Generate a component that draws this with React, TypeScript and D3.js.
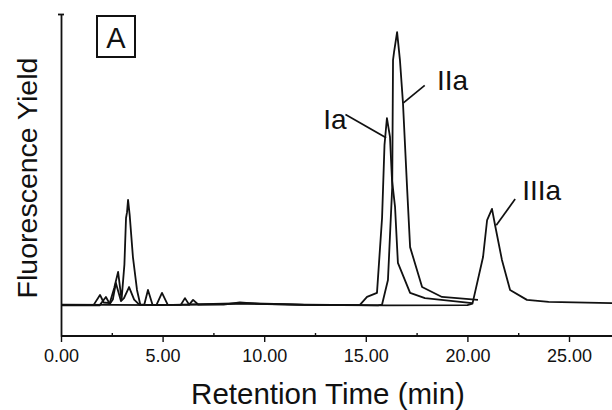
import React, { useEffect, useRef } from 'react';
import * as d3 from 'd3';

// retention time (min), fluorescence (arbitrary units, 0 = baseline)
const traceIa: [number, number][] = [
  [0, 0.2], [1.6, 0.1], [1.92, 3.6], [2.1, 1.0], [2.4, 0.8], [2.62, 6], [2.81, 11.5],
  [2.98, 2.0], [3.12, 14], [3.2, 30], [3.25, 32], [3.3, 36.2], [3.38, 31], [3.54, 16.6],
  [3.74, 5.3], [3.9, 0.3], [4.7, 0.2], [4.97, 4.3], [5.25, 0.3], [5.9, 0.2], [6.1, 2.5],
  [6.3, 0.3], [8.0, 0.3], [8.8, 1.0], [9.8, 0.5], [12, 0.2], [14.7, 0.1], [15.06, 2.9],
  [15.55, 4.3], [15.8, 30], [15.92, 55], [16.04, 64.3], [16.19, 57.8], [16.29, 43],
  [16.44, 33.7], [16.58, 14.6], [17.18, 4.3], [17.91, 2.5], [20.23, 0.8],
];

const traceIIa: [number, number][] = [
  [0, 0], [1.9, 0], [2.21, 2.9], [2.4, 0.5], [2.55, 2], [2.7, 7.7], [2.95, 1.5], [3.1, 2.5],
  [3.35, 6.3], [3.6, 2], [3.85, 0.3], [4.1, 0.3], [4.28, 5.3], [4.5, 0.3], [6.3, 0.2],
  [6.5, 1.9], [6.75, 0.3], [9, 0.6], [12, 0.2], [15.6, 0], [15.8, 0.3], [16.09, 8.7],
  [16.3, 40.6], [16.34, 84.2], [16.39, 86.9], [16.54, 93.8], [16.68, 84.2], [16.83, 69.4],
  [17.03, 40.6], [17.18, 20], [17.77, 6.3], [18.75, 2.9], [20.52, 1.9],
];

const traceIIIa: [number, number][] = [
  [0, 0.3], [5, 0.1], [9, 0.8], [12, 0.3], [16, 0], [20.0, 0.1], [20.25, 0.6],
  [20.77, 16.6], [20.97, 29.3], [21.21, 33.1], [21.36, 27.6], [21.7, 15.6], [22.1, 5.3],
  [22.93, 1.9], [24, 1.2], [27.12, 0.8],
];

const majorTicks = [0, 5, 10, 15, 20, 25];
const minorTicks = [2.5, 7.5, 12.5, 17.5, 22.5];

// peak labels: text, text position (time, value), leader end (time, value)
const peakLabels = [
  { name: 'Ia', at: [12.9, 60.5], from: [14.0, 65.5], to: [16.0, 57.5] },
  { name: 'IIa', at: [18.5, 74], from: [17.9, 75.5], to: [16.85, 69.5] },
  { name: 'IIIa', at: [22.7, 36], from: [22.35, 36.5], to: [21.42, 27.5] },
];

const FONT = '"Liberation Sans", Arial, Helvetica, sans-serif';
const INK = '#111';

const Chromatogram = () => {
  const ref = useRef<SVGSVGElement>(null);

  useEffect(() => {
    const width = 612;
    const height = 410;
    const svg = d3.select(ref.current);
    svg.selectAll('*').remove();
    svg.attr('width', width).attr('height', height);

    const x = d3.scaleLinear().domain([0, 25]).range([61, 569]);
    const y = d3.scaleLinear().domain([-10.5, 100]).range([336, 14]);

    const line = d3
      .line<[number, number]>()
      .x(d => x(d[0]))
      .y(d => y(d[1]));

    [traceIIIa, traceIIa, traceIa].forEach(t => {
      svg.append('path')
        .attr('d', line(t))
        .attr('fill', 'none')
        .attr('stroke', INK)
        .attr('stroke-width', 1.8)
        .attr('stroke-linejoin', 'round');
    });

    // bottom axis
    const xAxis = svg.append('g')
      .attr('transform', `translate(0,${y(-10.5)})`)
      .call(d3.axisBottom(x).tickValues(majorTicks).tickSize(6).tickSizeOuter(0).tickFormat(d3.format('.2f')));
    xAxis.select('.domain').attr('d', `M${x(0)},0H${width}`).attr('stroke', INK).attr('stroke-width', 1.8);
    xAxis.selectAll('line').attr('stroke', INK).attr('stroke-width', 1.4);
    xAxis.selectAll('text')
      .attr('y', 13)
      .style('font-family', FONT)
      .style('font-size', '18px')
      .attr('fill', INK);

    svg.append('g')
      .attr('transform', `translate(0,${y(-10.5)})`)
      .call(d3.axisTop(x).tickValues(minorTicks).tickSize(3).tickFormat(() => ''))
      .call(g => g.select('.domain').remove())
      .selectAll('line').attr('stroke', INK).attr('stroke-width', 1.4);

    // left axis
    const yAxis = svg.append('g')
      .attr('transform', `translate(${x(0)},0)`)
      .call(d3.axisLeft(y).tickValues([100]).tickSize(3).tickSizeOuter(0).tickFormat(() => ''));
    yAxis.select('.domain').attr('stroke', INK).attr('stroke-width', 1.8);
    yAxis.selectAll('.tick line').attr('x1', 3).attr('stroke', INK).attr('stroke-width', 1.8);

    // axis titles
    svg.append('text')
      .attr('x', 328)
      .attr('y', 404)
      .attr('text-anchor', 'middle')
      .style('font-family', FONT)
      .style('font-size', '29.5px')
      .attr('fill', INK)
      .text('Retention Time (min)');

    svg.append('text')
      .attr('transform', 'translate(37,178) rotate(-90)')
      .attr('text-anchor', 'middle')
      .style('font-family', FONT)
      .style('font-size', '28.5px')
      .attr('fill', INK)
      .text('Fluorescence Yield');

    // panel tag
    svg.append('rect')
      .attr('x', 97).attr('y', 16).attr('width', 38).attr('height', 41)
      .attr('fill', 'none').attr('stroke', INK).attr('stroke-width', 2);
    svg.append('text')
      .attr('x', 116).attr('y', 48)
      .attr('text-anchor', 'middle')
      .style('font-family', FONT)
      .style('font-size', '29px')
      .attr('fill', INK)
      .text('A');

    // peak labels with leader lines
    peakLabels.forEach(p => {
      svg.append('text')
        .attr('x', x(p.at[0]))
        .attr('y', y(p.at[1]))
        .style('font-family', FONT)
        .style('font-size', '28px')
        .attr('fill', INK)
        .text(p.name);
      svg.append('line')
        .attr('x1', x(p.from[0])).attr('y1', y(p.from[1]))
        .attr('x2', x(p.to[0])).attr('y2', y(p.to[1]))
        .attr('stroke', INK).attr('stroke-width', 1.7);
    });
  }, []);

  return <svg ref={ref} style={{ position: 'absolute', left: 0, top: 0, background: '#fff' }} />;
};

export default function App() {
  return <Chromatogram />;
}
